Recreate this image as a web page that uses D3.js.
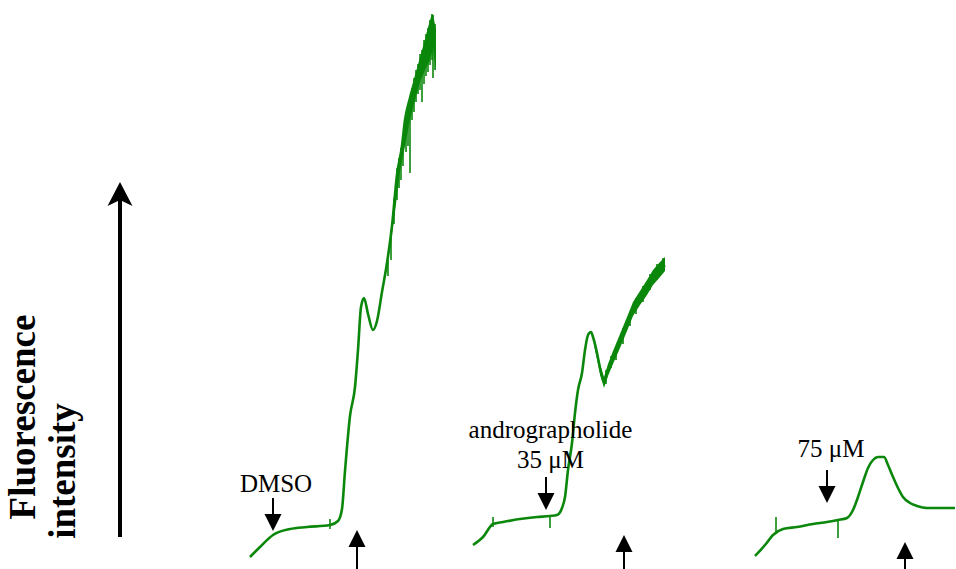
<!DOCTYPE html>
<html>
<head>
<meta charset="utf-8">
<script src="https://cdn.jsdelivr.net/npm/d3@7/dist/d3.min.js"></script>
<style>
    body { margin: 0; background: #fff; }
    svg { display: block; }
    text { font-family: "Liberation Serif", "Times New Roman", serif; fill: #000; }
</style>
</head>
<body>
<div id="chart"></div>
<script>
// time (s) and fluorescence (a.u.), one list per trace
const trace1 = [[0,3],[10,13],[23,25],[40,31],[57,33],[80,35],[88,39],[92,51],[95,89],[100,144],[105,173],
    [108,210],[111,253],[114,262],[118,246],[123,230],[127,239],[132,268],[137,297],[142,334],[147,385],
    [152,414],[155,440],[160,462],[165,480],[170,498],[175,516],[180,535],[183,545]];
const trace2 = [[0,15],[10,23],[20,36],[30,38],[47,41],[64,43],[77,44],[84,45],[89,52],[92,63],[95,90],
    [99,117],[102,147],[105,170],[109,187],[112,210],[115,225],[118,228],[120,223],[124,207],[127,192],
    [131,178],[135,190],[140,203],[147,220],[154,237],[160,252],[167,263],[174,273],[180,283],[187,290],[192,295]];
const trace3 = [[0,4],[10,15],[18,25],[28,31],[42,33],[58,36],[72,38],[83,40],[92,42],[98,50],[103,63],
    [108,78],[113,92],[118,100],[123,103],[129,103],[133,95],[138,83],[143,72],[148,63],[155,57],
    [162,54],[172,52],[200,52]];

// noisy stretch: [t, upper, lower]
const noise1 = [[135,288,282],[140,322,312],[145,365,348],[150,405,388],[155,436,414],[160,460,440],
    [165,482,460],[170,500,478],[175,516,490],[180,534,500],[183,546,512],[186,530,488]];
const noise2 = [[121,222,215],[127,196,186],[131,183,172],[135,196,184],[140,209,196],[147,226,212],
    [154,243,229],[160,258,244],[167,269,255],[174,280,265],[180,290,275],[187,298,283],[192,303,289]];
const noise3 = [];

// spikes and injection ticks: [t, top, bottom]
const spikes1 = [[80,41,31],[138,300,284],[141,330,300],[144,362,336],[147,392,360],[149,402,372],
    [151,412,380],[153,420,394],[156,446,408],[158,455,414],[160,460,387],[162,472,440],[164,482,448],
    [166,490,458],[168,496,466],[170,506,470],[172,510,458],[174,520,476],[176,526,484],[178,532,488],
    [180,540,495],[182,546,500],[183,530,482],[185,536,490]];
const spikes2 = [[20,43,33],[77,44,32],[133,190,176],[138,204,192],[143,214,200],[150,232,216],
    [157,248,234],[163,262,246],[170,274,258],[177,286,270],[184,296,280],[190,302,288]];
const spikes3 = [[21,43,27],[83,40,22]];

// annotations: addition (down arrow) and wash (up arrow)
const addT = [23, 73, 72];
const addTip = [29, 50, 57];
const washT = [107, 151, 150];
const washTip = [30, 25, 18];
const labels = [["DMSO"], ["andrographolide", "35 μM"], ["75 μM"]];
const labelT = [26, 77.5, 76];
const labelV = [68, 122, 103];

const traces = [trace1, trace2, trace3];
const noises = [noise1, noise2, noise3];
const spikes = [spikes1, spikes2, spikes3];
const panelLeft = [250, 473, 755];

const width = 956, height = 569;
const green = "#0b870b";

let svg = d3.select("#chart").append("svg")
    .attr("width", width)
    .attr("height", height);

svg.append("rect").attr("width", width).attr("height", height).attr("fill", "#fff");

let x = d3.scaleLinear().domain([0, 210]).range([0, 210]);
let y = d3.scaleLinear().domain([0, 550]).range([560, 10]);

let line = d3.line()
    .curve(d3.curveMonotoneX)
    .x(function (d) { return x(d[0]); })
    .y(function (d) { return y(d[1]); });

let area = d3.area()
    .x(function (d) { return x(d[0]); })
    .y0(function (d) { return y(d[2]); })
    .y1(function (d) { return y(d[1]); });

// filled arrow head with straight shaft
function arrow(g, ax, tipY, tailY, headW, headH, sw) {
    let dir = tailY > tipY ? 1 : -1;
    g.append("line")
        .attr("x1", ax).attr("x2", ax)
        .attr("y1", tailY).attr("y2", tipY + dir * headH * 0.8)
        .attr("stroke", "#000")
        .attr("stroke-width", sw);
    g.append("path")
        .attr("d", "M" + ax + "," + tipY +
            "L" + (ax - headW / 2) + "," + (tipY + dir * headH) +
            "L" + (ax + headW / 2) + "," + (tipY + dir * headH) + "Z")
        .attr("fill", "#000");
}

traces.forEach(function (data, i) {
    let g = svg.append("g").attr("transform", "translate(" + panelLeft[i] + ",0)");

    if (noises[i].length) {
        g.append("path")
            .attr("d", area(noises[i]))
            .attr("fill", green);
    }

    g.append("path")
        .attr("d", line(data))
        .attr("fill", "none")
        .attr("stroke", green)
        .attr("stroke-width", 2.6)
        .attr("stroke-linejoin", "round");

    g.selectAll(".spike")
        .data(spikes[i])
        .enter()
        .append("line")
        .attr("x1", function (d) { return x(d[0]); })
        .attr("x2", function (d) { return x(d[0]); })
        .attr("y1", function (d) { return y(d[1]); })
        .attr("y2", function (d) { return y(d[2]); })
        .attr("stroke", green)
        .attr("stroke-width", 1.6);

    // addition arrow
    arrow(g, x(addT[i]), y(addTip[i]), y(addTip[i] + 33), 17, 17, 2);
    // wash arrow, runs off the bottom
    arrow(g, x(washT[i]), y(washTip[i]), height + 2, 17, 17, 2);

    let lab = g.append("text")
        .attr("text-anchor", "middle")
        .attr("font-size", 25)
        .attr("x", x(labelT[i]))
        .attr("y", y(labelV[i]));
    labels[i].forEach(function (s, k) {
        lab.append("tspan")
            .attr("x", x(labelT[i]))
            .attr("dy", k === 0 ? 0 : 30)
            .text(s);
    });
});

// intensity axis arrow
let axis = svg.append("g");
axis.append("line")
    .attr("x1", 120).attr("x2", 120)
    .attr("y1", 537).attr("y2", 200)
    .attr("stroke", "#000")
    .attr("stroke-width", 4);
axis.append("path")
    .attr("d", "M120,182 L107.5,206 L120,200 L132.5,206 Z")
    .attr("fill", "#000");

svg.append("text")
    .attr("transform", "translate(35,417) rotate(-90)")
    .attr("text-anchor", "middle")
    .attr("font-size", 37)
    .attr("font-weight", "bold")
    .text("Fluorescence");
svg.append("text")
    .attr("transform", "translate(75,471) rotate(-90)")
    .attr("text-anchor", "middle")
    .attr("font-size", 37)
    .attr("font-weight", "bold")
    .text("intensity");
</script>
</body>
</html>
